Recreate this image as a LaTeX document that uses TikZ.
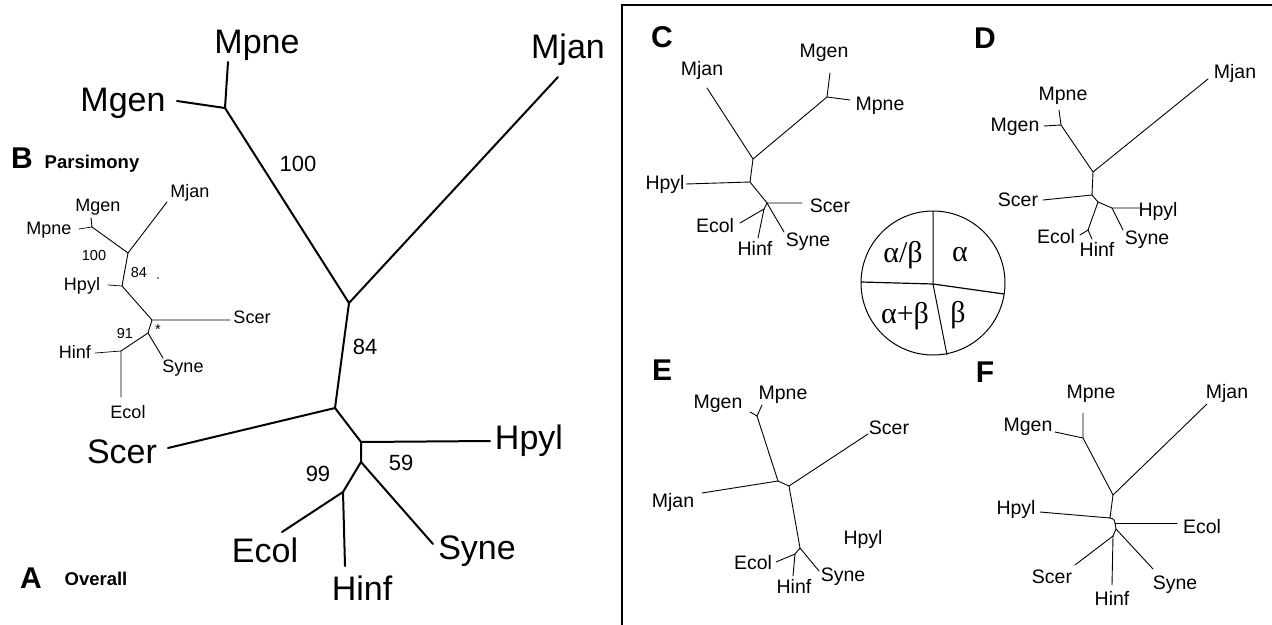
\documentclass[tikz,border=0pt]{standalone}
\usepackage{fontspec}
\setmainfont{Liberation Sans}
\newfontfamily\grkfont{Liberation Serif}
\begin{document}
\begin{tikzpicture}[x=1pt,y=-1pt,
  big/.style={inner sep=0pt,font=\fontsize{34}{40}\selectfont},
  bignum/.style={inner sep=0pt,font=\fontsize{22}{26}\selectfont},
  small/.style={inner sep=0pt,font=\fontsize{18}{22}\selectfont},
  tiny/.style={inner sep=0pt,font=\fontsize{19.5}{23}\selectfont},
  smallnum/.style={inner sep=0pt,font=\fontsize{14.5}{17}\selectfont},
  panel/.style={inner sep=0pt,font=\fontsize{30}{34}\bfseries\selectfont},
  caption/.style={inner sep=0pt,font=\fontsize{18.5}{22}\bfseries\selectfont},
  greek/.style={inner sep=0pt,font=\fontsize{30}{34}\grkfont\selectfont},
  thick branch/.style={line width=2pt,line cap=round,line join=round},
  thin branch/.style={line width=0.9pt,line cap=round,line join=round},
  hair branch/.style={line width=0.7pt,line cap=round,line join=round}]
\useasboundingbox (0,0) rectangle (1272,624);

% ---------------- A: overall tree ----------------
\coordinate (aMM) at (225,108);
\coordinate (aMpneE) at (228,62);
\coordinate (aMgenE) at (177,101);
\coordinate (aN1) at (349,303);
\coordinate (aMjanE) at (558,77);
\coordinate (aN2) at (335,408);
\coordinate (aScerE) at (168,448);
\coordinate (aN3) at (361,442);
\coordinate (aHpylE) at (490,441);
\coordinate (aN4) at (361,462);
\coordinate (aSyneE) at (433,544);
\coordinate (aN5) at (343,492);
\coordinate (aEcolE) at (282,532);
\coordinate (aHinfE) at (345,566);
\draw[thick branch] (aMpneE) -- (aMM) -- (aMgenE);
\draw[thick branch] (aMM) -- (aN1) -- (aMjanE);
\draw[thick branch] (aN1) -- (aN2) -- (aScerE);
\draw[thick branch] (aN2) -- (aN3) -- (aHpylE);
\draw[thick branch] (aN3) -- (aN4) -- (aSyneE);
\draw[thick branch] (aN4) -- (aN5) -- (aEcolE);
\draw[thick branch] (aN5) -- (aHinfE);
\node[big] (aMpne) at (257,45) {Mpne};
\node[big] (aMgen) at (123,103) {Mgen};
\node[big] (aMjan) at (568,50) {Mjan};
\node[big] (aScer) at (122,452) {Scer};
\node[big] (aHpyl) at (529,441) {Hpyl};
\node[big] (aSyne) at (477,551) {Syne};
\node[big] (aEcol) at (265,550) {Ecol};
\node[big] (aHinf) at (362,588) {Hinf};
\node[bignum] (aB100) at (298,164) {100};
\node[bignum] (aB84) at (365,347) {84};
\node[bignum] (aB59) at (401,463) {59};
\node[bignum] (aB99) at (318,474) {99};
\node[panel] (labA) at (31,578) {A};
\node[caption] (capA) at (96,579) {Overall};

% ---------------- B: parsimony tree ----------------
\coordinate (bMM) at (92,227);
\coordinate (bMgenE) at (91,218);
\coordinate (bMpneE) at (79,229);
\coordinate (bN1) at (128,253);
\coordinate (bMjanE) at (167,202);
\coordinate (bN2) at (122,286);
\coordinate (bHpylE) at (108,285);
\coordinate (bN3) at (152,320);
\coordinate (bScerE) at (230,320);
\coordinate (bN4) at (148,333);
\coordinate (bSyneE) at (163,358);
\coordinate (bN5) at (121,351);
\coordinate (bHinfE) at (95,353);
\coordinate (bEcolE) at (121,397);
\draw[thin branch] (bMgenE) -- (bMM);
\draw[hair branch] (bMpneE) -- (bMM);
\draw[thin branch] (bMM) -- (bN1) -- (bMjanE);
\draw[thin branch] (bN1) -- (bN2);
\draw[hair branch] (bN2) -- (bHpylE);
\draw[thin branch] (bN2) -- (bN3) -- (bScerE);
\draw[thin branch] (bN3) -- (bN4) -- (bSyneE);
\draw[thin branch] (bN4) -- (bN5) -- (bEcolE);
\draw[hair branch] (bN5) -- (bHinfE);
\node[small] (bMjan) at (190,193) {Mjan};
\node[small] (bMgen) at (98,207) {Mgen};
\node[small] (bMpne) at (49,230) {Mpne};
\node[small] (bHpyl) at (82,286) {Hpyl};
\node[small] (bScer) at (252,317) {Scer};
\node[small] (bSyne) at (183,368) {Syne};
\node[small] (bHinf) at (75,352) {Hinf};
\node[small] (bEcol) at (128,412) {Ecol};
\node[smallnum] (bB100) at (94,256) {100};
\node[smallnum] (bB84) at (139,273) {84};
\node[smallnum] (bB91) at (125,334) {91};
\node[smallnum] (bStar) at (158,330) {*};
\fill (158,278) circle (0.8);
\node[panel] (labB) at (22,158) {B};
\node[caption] (capB) at (92,164) {Parsimony};

% ---------------- frame of panels C to F ----------------
\draw[line width=2.5pt] (622,626) -- (622,5) -- (1274,5);

% ---------------- C ----------------
\coordinate (cMjanE) at (707,88);
\coordinate (cN1) at (753,159);
\coordinate (cMM) at (827,97);
\coordinate (cMgenE) at (830,73);
\coordinate (cMpneE) at (850,100);
\coordinate (cN2) at (750,182);
\coordinate (cHpylE) at (686,184);
\coordinate (cN3) at (767,203);
\coordinate (cScerE) at (802,203);
\coordinate (cSyneE) at (784,232);
\coordinate (cN4) at (764,209);
\coordinate (cEcolE) at (740,223);
\coordinate (cHinfE) at (758,238);
\draw[thin branch] (cMjanE) -- (cN1) -- (cMM) -- (cMgenE);
\draw[thin branch] (cMM) -- (cMpneE);
\draw[thin branch] (cN1) -- (cN2) -- (cHpylE);
\draw[thin branch] (cN2) -- (cN3) -- (cScerE);
\draw[thin branch] (cN3) -- (cSyneE);
\draw[thin branch] (cN3) -- (cN4) -- (cEcolE);
\draw[thin branch] (cN4) -- (cHinfE);
\node[panel] (labC) at (662,37) {C};
\node[tiny] (cMjan) at (702,70) {Mjan};
\node[tiny] (cMgen) at (824,53) {Mgen};
\node[tiny] (cMpne) at (880,106) {Mpne};
\node[tiny] (cHpyl) at (665,184) {Hpyl};
\node[tiny] (cScer) at (830,206) {Scer};
\node[tiny] (cEcol) at (715,226) {Ecol};
\node[tiny] (cHinf) at (755,248) {Hinf};
\node[tiny] (cSyne) at (808,242) {Syne};

% ---------------- D ----------------
\coordinate (dMjanE) at (1208,79);
\coordinate (dN1) at (1093,172);
\coordinate (dMM) at (1061,125);
\coordinate (dMpneE) at (1059,110);
\coordinate (dMgenE) at (1044,126);
\coordinate (dN2) at (1092,195);
\coordinate (dScerE) at (1043,200);
\coordinate (dN4) at (1098,202);
\coordinate (dN3) at (1112,208);
\coordinate (dHpylE) at (1140,208);
\coordinate (dSyneE) at (1123,230);
\coordinate (dN5) at (1088,230);
\coordinate (dEcolE) at (1080,235);
\coordinate (dHinfE) at (1092,239);
\draw[thin branch] (dMjanE) -- (dN1) -- (dMM) -- (dMpneE);
\draw[thin branch] (dMM) -- (dMgenE);
\draw[thin branch] (dN1) -- (dN2) -- (dScerE);
\draw[thin branch] (dN2) -- (dN4) -- (dN3) -- (dHpylE);
\draw[thin branch] (dN3) -- (dSyneE);
\draw[thin branch] (dN4) -- (dN5) -- (dEcolE);
\draw[thin branch] (dN5) -- (dHinfE);
\node[panel] (labD) at (985,38) {D};
\node[tiny] (dMjan) at (1235,73) {Mjan};
\node[tiny] (dMpne) at (1063,96) {Mpne};
\node[tiny] (dMgen) at (1015,127) {Mgen};
\node[tiny] (dScer) at (1018,200) {Scer};
\node[tiny] (dHpyl) at (1158,211) {Hpyl};
\node[tiny] (dEcol) at (1056,237) {Ecol};
\node[tiny] (dHinf) at (1097,249) {Hinf};
\node[tiny] (dSyne) at (1147,240) {Syne};

% ---------------- fold classes ----------------
\coordinate (pc) at (933,284);
\draw[line width=1pt] (933,283) circle (72);
\draw[line width=1pt] (933,211) -- (pc) -- (947,355);
\draw[line width=1.2pt] (861,282) -- (pc) -- (1004,294);
\node[greek] (gab) at (903,255) {α/β};
\node[greek] (ga) at (960,255) {α};
\node[greek] (gapb) at (905,316) {α+β};
\node[greek] (gb) at (958,315) {β};

% ---------------- E ----------------
\coordinate (eMM) at (757,416);
\coordinate (eMgenE) at (750,412);
\coordinate (eMpneE) at (762,405);
\coordinate (eN1) at (778,481);
\coordinate (eMjanE) at (702,493);
\coordinate (eN2) at (789,486);
\coordinate (eScerE) at (868,434);
\coordinate (eN3) at (800,548);
\coordinate (eSyneE) at (819,571);
\coordinate (eN4) at (795,554);
\coordinate (eEcolE) at (776,562);
\coordinate (eHinfE) at (793,576);
\draw[thin branch] (eMgenE) -- (eMM) -- (eMpneE);
\draw[thin branch] (eMM) -- (eN1) -- (eMjanE);
\draw[thin branch] (eN1) -- (eN2) -- (eScerE);
\draw[thin branch] (eN2) -- (eN3) -- (eSyneE);
\draw[thin branch] (eN3) -- (eN4) -- (eEcolE);
\draw[thin branch] (eN4) -- (eHinfE);
\node[panel] (labE) at (662,370) {E};
\node[tiny] (eMgen) at (718,404) {Mgen};
\node[tiny] (eMpne) at (783,395) {Mpne};
\node[tiny] (eScer) at (889,428) {Scer};
\node[tiny] (eMjan) at (673,502) {Mjan};
\node[tiny] (eHpyl) at (863,539) {Hpyl};
\node[tiny] (eEcol) at (753,563) {Ecol};
\node[tiny] (eHinf) at (794,586) {Hinf};
\node[tiny] (eSyne) at (843,577) {Syne};

% ---------------- F ----------------
\coordinate (fMM) at (1083,438);
\coordinate (fMpneE) at (1083,413);
\coordinate (fMgenE) at (1055,432);
\coordinate (fN1) at (1113,495);
\coordinate (fMjanE) at (1207,404);
\coordinate (fN2) at (1110,518);
\coordinate (fHpylE) at (1040,512);
\coordinate (fN3) at (1115,523);
\coordinate (fEcolE) at (1177,523);
\coordinate (fN5) at (1116,529);
\coordinate (fSyneE) at (1153,569);
\coordinate (fN4) at (1113,536);
\coordinate (fScerE) at (1075,565);
\coordinate (fHinfE) at (1112,585);
\draw[thin branch] (fMpneE) -- (fMM) -- (fMgenE);
\draw[thin branch] (fMM) -- (fN1) -- (fMjanE);
\draw[thin branch] (fN1) -- (fN2) -- (fHpylE);
\draw[thin branch] (fN2) .. controls (1114,519) .. (fN3) -- (fN5) -- (fN4);
\draw[thin branch] (fN3) -- (fEcolE);
\draw[thin branch] (fN5) -- (fSyneE);
\draw[thin branch] (fN4) -- (fScerE);
\draw[thin branch] (fN4) -- (fHinfE);
\node[panel] (labF) at (985,372) {F};
\node[tiny] (fMpne) at (1091,394) {Mpne};
\node[tiny] (fMgen) at (1028,427) {Mgen};
\node[tiny] (fMjan) at (1227,393) {Mjan};
\node[tiny] (fHpyl) at (1016,509) {Hpyl};
\node[tiny] (fEcol) at (1202,527) {Ecol};
\node[tiny] (fScer) at (1052,577) {Scer};
\node[tiny] (fHinf) at (1112,598) {Hinf};
\node[tiny] (fSyne) at (1175,585) {Syne};
\end{tikzpicture}
\end{document}
